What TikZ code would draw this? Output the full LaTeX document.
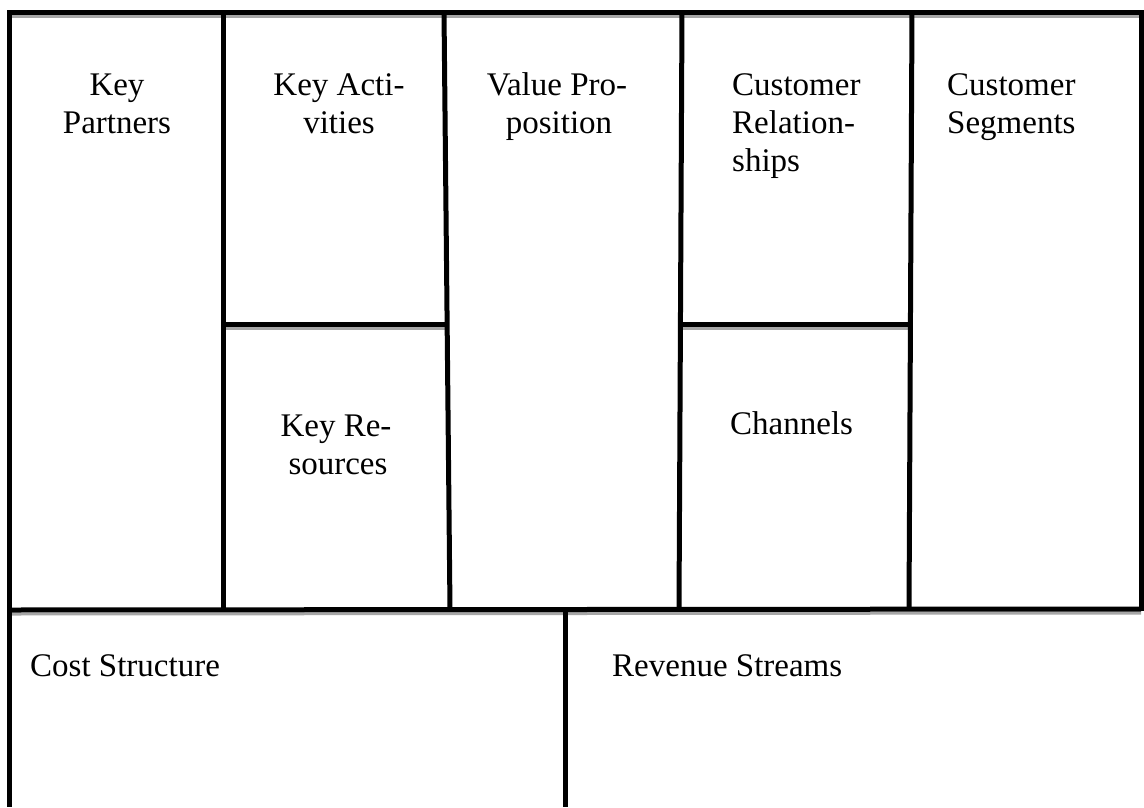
\documentclass[tikz,border=0pt]{standalone}
\usepackage{fontspec}
\setmainfont{Liberation Serif}
\begin{document}
\begin{tikzpicture}[x=1pt,y=-1pt,
  rule/.style={line width=5pt,black},
  shade/.style={line width=3pt,black!35},
  lbl/.style={inner sep=0pt,font=\fontsize{33}{38}\selectfont},
  lblc/.style={lbl,anchor=base},
  lbll/.style={lbl,anchor=base west}]
\useasboundingbox[fill=white] (0,0) rectangle (1144,807);

% soft shadows under the horizontal rules
\draw[shade] (9,16.5) -- (1141,16.5);
\draw[shade] (223,328) -- (447,328);
\draw[shade] (681,328) -- (910,328);
\draw[shade] (9,614) -- (1141,613);

% frame
\draw[rule] (9,12.5) -- (1141,12.5);
\draw[rule] (9,10) -- (9,807);
\draw[rule] (1141,10) -- (1141,611);

% column dividers of the upper band
\draw[rule] (223,12) -- (223,610);
\draw[rule] (444,12) -- (450,610);
\draw[rule] (682,12) -- (679,610);
\draw[rule] (912,12) -- (909,610);

% split cells
\draw[rule] (223,324) -- (447,324);
\draw[rule] (681,324) -- (910,324);

% lower band
\draw[rule] (9,610) -- (1141,609);
\draw[rule] (565,610) -- (565,807);

% cell titles
\node[lblc] (kp1) at (117,95) {Key};
\node[lblc] (kp2) at (117,133) {Partners};
\node[lblc] (ka1) at (339,95) {Key Acti-};
\node[lblc] (ka2) at (339,133) {vities};
\node[lblc] (kr1) at (336,436) {Key Re-};
\node[lblc] (kr2) at (338,474) {sources};
\node[lblc] (vp1) at (557,95) {Value Pro-};
\node[lblc] (vp2) at (559,133) {position};
\node[lbll] (cr1) at (732,95) {Customer};
\node[lbll] (cr2) at (732,133) {Relation-};
\node[lbll] (cr3) at (732,171) {ships};
\node[lbll] (ch) at (730,434) {Channels};
\node[lbll] (cs1) at (947,95) {Customer};
\node[lbll] (cs2) at (947,133) {Segments};
\node[lbll] (cost) at (30,676) {Cost Structure};
\node[lbll] (rev) at (612,676) {Revenue Streams};
\end{tikzpicture}
\end{document}
